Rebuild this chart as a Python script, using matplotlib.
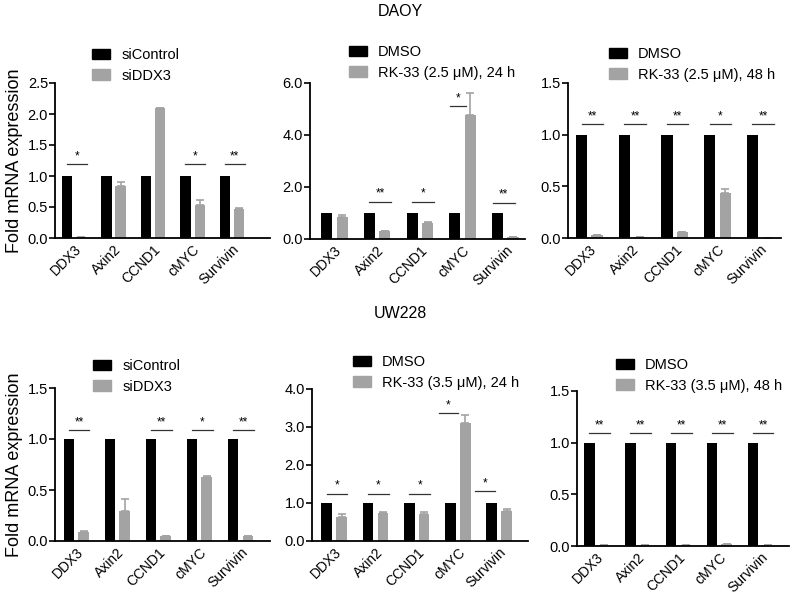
import matplotlib
matplotlib.use("Agg")
import matplotlib.pyplot as plt
from matplotlib.patches import Patch
import numpy as np

plt.rcParams['font.family'] = ['Liberation Sans', 'DejaVu Sans']

genes = ['DDX3', 'Axin2', 'CCND1', 'cMYC', 'Survivin']
control = [1.0, 1.0, 1.0, 1.0, 1.0]

# DAOY
daoy_si = [0.02, 0.84, 2.09, 0.54, 0.46]
daoy_si_err = [0.0, 0.06, 0.01, 0.07, 0.02]
daoy_24 = [0.83, 0.31, 0.62, 4.78, 0.08]
daoy_24_err = [0.08, 0.0, 0.03, 0.84, 0.0]
daoy_48 = [0.03, 0.01, 0.055, 0.44, 0.0]
daoy_48_err = [0.0, 0.0, 0.0, 0.03, 0.0]
# UW228
uw_si = [0.09, 0.29, 0.05, 0.63, 0.05]
uw_si_err = [0.005, 0.12, 0.0, 0.005, 0.0]
uw_24 = [0.63, 0.74, 0.70, 3.11, 0.80]
uw_24_err = [0.07, 0.03, 0.07, 0.20, 0.03]
uw_48 = [0.01, 0.01, 0.01, 0.015, 0.01]
uw_48_err = [0.0, 0.0, 0.0, 0.0, 0.0]

# significance marks and bar heights
daoy_si_sig = ['*', '', '', '*', '**']
daoy_si_sig_y = [1.19, 1.19, 1.19, 1.19, 1.19]
daoy_24_sig = ['', '**', '*', '*', '**']
daoy_24_sig_y = [1.44, 1.44, 1.44, 5.12, 1.40]
daoy_48_sig = ['**', '**', '**', '*', '**']
daoy_48_sig_y = [1.10, 1.10, 1.10, 1.10, 1.10]
uw_si_sig = ['**', '', '**', '*', '**']
uw_si_sig_y = [1.09, 1.09, 1.09, 1.09, 1.09]
uw_24_sig = ['*', '*', '*', '*', '*']
uw_24_sig_y = [1.25, 1.25, 1.25, 3.37, 1.31]
uw_48_sig = ['**', '**', '**', '**', '**']
uw_48_sig_y = [1.09, 1.09, 1.09, 1.09, 1.09]

BLACK = '#000000'
GRAY = '#a3a3a3'
W, H = 793, 597


def px_axes(fig, l, r, t, b):
    return fig.add_axes([l / W, 1 - b / H, (r - l) / W, (b - t) / H])


def panel(ax, treat, err, sig, sig_y, ylim, yticks, xlim, labels, leg_xy,
          ylabel=False, spans=None):
    x = np.arange(len(genes))
    off, bw = 0.18, 0.26
    ax.bar(x - off, control, bw, color=BLACK)
    ax.bar(x + off, treat, bw, color=GRAY)
    ax.errorbar(x + off, treat, yerr=[np.zeros(len(err)), err], fmt='none',
                ecolor=GRAY, elinewidth=1.2, capsize=3, capthick=1.2)
    for i, s in enumerate(sig):
        if not s:
            continue
        a, b = (-0.18, 0.32) if spans is None or spans[i] is None else spans[i]
        ax.plot([i + a, i + b], [sig_y[i]] * 2, color='#333333', lw=0.9)
        ax.text(i + (a + b) / 2, sig_y[i] + (ylim[1] * 0.012), s, ha='center',
                va='bottom', fontsize=8.5)
    ax.set_xlim(*xlim)
    ax.set_ylim(*ylim)
    ax.set_yticks(yticks)
    ax.set_yticklabels(['%.1f' % v for v in yticks], fontsize=10.5)
    ax.set_xticks(x)
    ax.set_xticklabels(genes, rotation=45, ha='right', rotation_mode='anchor',
                       fontsize=10)
    ax.tick_params(axis='x', length=0, pad=3)
    ax.tick_params(axis='y', length=4, width=1.2, pad=1)
    for sp in ['top', 'right']:
        ax.spines[sp].set_visible(False)
    for sp in ['left', 'bottom']:
        ax.spines[sp].set_linewidth(1.3)
    if ylabel:
        ax.set_ylabel('Fold mRNA expression', fontsize=13, labelpad=3)
    handles = [Patch(color=BLACK), Patch(color=GRAY)]
    ax.legend(handles, labels, loc='upper left',
              bbox_to_anchor=(leg_xy[0] / W, 1 - leg_xy[1] / H),
              bbox_transform=ax.figure.transFigure, frameon=False,
              borderpad=0, borderaxespad=0, handlelength=1.2,
              handleheight=0.7, handletextpad=0.8, labelspacing=0.45,
              fontsize=10.5)


fig = plt.figure(figsize=(W / 100, H / 100), dpi=100)

fig.text(400 / W, 1 - 12 / H, 'DAOY', ha='center', va='center', fontsize=11.5)
fig.text(400 / W, 1 - 313 / H, 'UW228', ha='center', va='center', fontsize=11.5)

ax1 = px_axes(fig, 55, 270, 83, 238)
panel(ax1, daoy_si, daoy_si_err, daoy_si_sig, daoy_si_sig_y, (0, 2.5),
      [0, 0.5, 1.0, 1.5, 2.0, 2.5], (-0.48, 4.96), ['siControl', 'siDDX3'],
      (92, 48), ylabel=True)

ax2 = px_axes(fig, 310, 525, 83, 239)
panel(ax2, daoy_24, daoy_24_err, daoy_24_sig, daoy_24_sig_y, (0, 6.0),
      [0, 2.0, 4.0, 6.0], (-0.57, 4.46),
      ['DMSO', 'RK-33 (2.5 \u03bcM), 24 h'], (349, 45),
      spans=[None, None, None, (-0.30, 0.09), (-0.30, 0.23)])

ax3 = px_axes(fig, 568, 781, 83, 238)
panel(ax3, daoy_48, daoy_48_err, daoy_48_sig, daoy_48_sig_y, (0, 1.5),
      [0, 0.5, 1.0, 1.5], (-0.50, 4.49),
      ['DMSO', 'RK-33 (2.5 \u03bcM), 48 h'], (609, 47))

ax4 = px_axes(fig, 55, 270, 388, 541)
panel(ax4, uw_si, uw_si_err, uw_si_sig, uw_si_sig_y, (0, 1.5),
      [0, 0.5, 1.0, 1.5], (-0.52, 4.72), ['siControl', 'siDDX3'],
      (93, 359), ylabel=True)

ax5 = px_axes(fig, 312, 528, 389, 541)
panel(ax5, uw_24, uw_24_err, uw_24_sig, uw_24_sig_y, (0, 4.0),
      [0, 1.0, 2.0, 3.0, 4.0], (-0.54, 4.70),
      ['DMSO', 'RK-33 (3.5 \u03bcM), 24 h'], (353, 355),
      spans=[None, None, None, (-0.46, -0.01), (-0.58, -0.11)])

ax6 = px_axes(fig, 577, 789, 391, 546)
panel(ax6, uw_48, uw_48_err, uw_48_sig, uw_48_sig_y, (0, 1.5),
      [0, 0.5, 1.0, 1.5], (-0.48, 4.70),
      ['DMSO', 'RK-33 (3.5 \u03bcM), 48 h'], (616, 358))

fig.savefig('out.png', dpi=100)
